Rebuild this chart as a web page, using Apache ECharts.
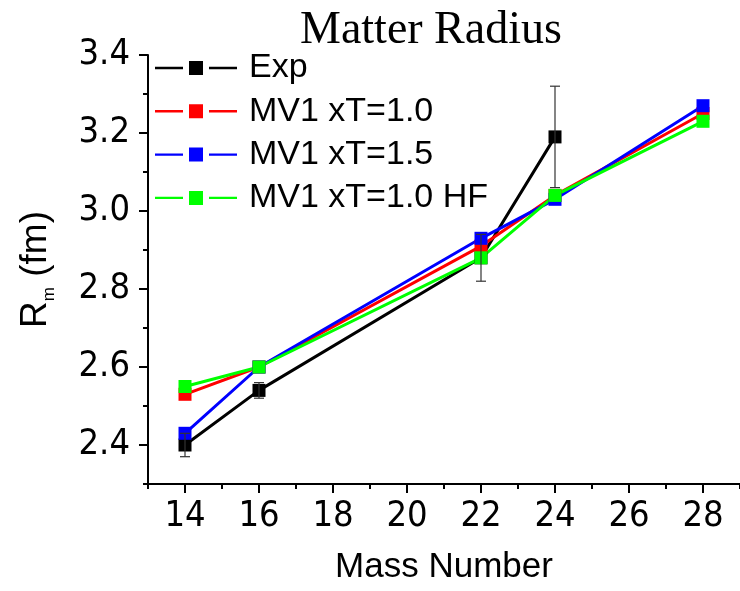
<!DOCTYPE html>
<html>
<head>
<meta charset="utf-8">
<script src="https://cdn.jsdelivr.net/npm/echarts@6/dist/echarts.min.js"></script>
<style>
  html, body { margin: 0; padding: 0; background: #fff; }
  #chart { width: 740px; height: 591px; }
</style>
</head>
<body>
<div id="chart"></div>
<script>
// Matter radius vs. mass number
const massNumbers = [14, 16, 22, 24, 28];
const expRadius = [2.40, 2.54, 2.88, 3.19];
const expError = [0.03, 0.02, 0.06, 0.13];
const mv1xT10 = [2.53, 2.60, 2.91, 3.04, 3.25];
const mv1xT15 = [2.43, 2.60, 2.93, 3.03, 3.27];
const mv1xT10HF = [2.55, 2.60, 2.88, 3.04, 3.23];

const xMajorTicks = [14, 16, 18, 20, 22, 24, 26, 28];
const xMinorTicks = [13, 15, 17, 19, 21, 23, 25, 27, 29];
const yMajorTicks = [2.4, 2.6, 2.8, 3.0, 3.2, 3.4];
const yMinorTicks = [2.3, 2.5, 2.7, 2.9, 3.1, 3.3];

const seriesNames = ['Exp', 'MV1 xT=1.0', 'MV1 xT=1.5', 'MV1 xT=1.0 HF'];
const seriesColors = ['#000000', '#ff0000', '#0000ff', '#00ff00'];

const pairs = (ys) => ys.map((y, i) => [massNumbers[i], y]);

const tickFont = "'Liberation Sans Narrow', 'DejaVu Sans Condensed', 'Liberation Sans', sans-serif";
const sansFont = "'Liberation Sans', Arial, sans-serif";

// legend key: short line, gap, square, gap, short line
const legendIcon = 'path://M0,5.8 h28 v2.4 h-28 Z M34,0 h14 v14 h-14 Z M54,5.8 h28 v2.4 h-28 Z';

function lineSeries(name, values, color) {
  return {
    name: name,
    type: 'line',
    data: pairs(values),
    symbol: 'rect',
    symbolSize: 13,
    itemStyle: { color: color },
    lineStyle: { color: color, width: 3 },
    emphasis: { disabled: true },
    animation: false
  };
}

const errorData = expRadius.map((y, i) => [massNumbers[i], y - expError[i], y + expError[i]]);

const chart = echarts.init(document.getElementById('chart'), null, { renderer: 'canvas' });

chart.setOption({
  backgroundColor: '#ffffff',
  animation: false,
  title: {
    text: 'Matter Radius',
    left: 295,
    top: 3,
    textStyle: {
      fontFamily: "'Liberation Serif', 'Times New Roman', serif",
      fontSize: 46,
      fontWeight: 'normal',
      color: '#000'
    }
  },
  legend: {
    data: seriesNames,
    orient: 'vertical',
    left: 155,
    top: 51,
    padding: 0,
    icon: legendIcon,
    itemWidth: 82,
    itemHeight: 14,
    itemGap: 9.3,
    textStyle: {
      fontFamily: sansFont,
      fontSize: 34,
      lineHeight: 34,
      color: '#000',
      padding: [0, 0, 0, 7]
    }
  },
  grid: { left: 148, top: 55, right: 0, bottom: 107, containLabel: false },
  xAxis: [
    {
      type: 'value',
      min: 13,
      max: 29,
      name: 'Mass Number',
      nameLocation: 'middle',
      nameGap: 66,
      nameTextStyle: {
        fontFamily: sansFont,
        fontSize: 35,
        color: '#000'
      },
      axisLine: { show: true, onZero: false, lineStyle: { color: '#000', width: 2 } },
      axisTick: { show: true, customValues: xMajorTicks, length: 9, lineStyle: { color: '#000', width: 2 } },
      axisLabel: {
        customValues: xMajorTicks,
        margin: 15,
        fontFamily: tickFont,
        fontSize: 36,
        color: '#000'
      },
      splitLine: { show: false }
    },
    {
      type: 'value',
      min: 13,
      max: 29,
      position: 'bottom',
      axisLine: { show: false, onZero: false },
      axisTick: { show: true, customValues: xMinorTicks, length: 5, lineStyle: { color: '#000', width: 2 } },
      axisLabel: { show: false },
      splitLine: { show: false }
    }
  ],
  yAxis: [
    {
      type: 'value',
      min: 2.3,
      max: 3.4,
      name: '{a|R}{b|m}{a| (fm)}',
      nameLocation: 'middle',
      nameRotate: 90,
      nameGap: 90,
      nameTextStyle: {
        color: '#000',
        rich: {
          a: { fontFamily: sansFont, fontSize: 37, lineHeight: 44, color: '#000' },
          b: { fontFamily: sansFont, fontSize: 17, lineHeight: 44, verticalAlign: 'bottom', color: '#000' }
        }
      },
      axisLine: { show: true, onZero: false, lineStyle: { color: '#000', width: 2 } },
      axisTick: { show: true, customValues: yMajorTicks, length: 9, lineStyle: { color: '#000', width: 2 } },
      axisLabel: {
        customValues: yMajorTicks,
        margin: 18,
        fontFamily: tickFont,
        fontSize: 36,
        color: '#000',
        formatter: (v) => v.toFixed(1)
      },
      splitLine: { show: false }
    },
    {
      type: 'value',
      min: 2.3,
      max: 3.4,
      position: 'left',
      axisLine: { show: false, onZero: false },
      axisTick: { show: true, customValues: yMinorTicks, length: 5, lineStyle: { color: '#000', width: 2 } },
      axisLabel: { show: false },
      splitLine: { show: false }
    }
  ],
  series: [
    lineSeries(seriesNames[0], expRadius, seriesColors[0]),
    lineSeries(seriesNames[1], mv1xT10, seriesColors[1]),
    lineSeries(seriesNames[2], mv1xT15, seriesColors[2]),
    lineSeries(seriesNames[3], mv1xT10HF, seriesColors[3]),
    {
      name: 'Exp error',
      type: 'custom',
      data: errorData,
      z: 10,
      silent: true,
      renderItem: function (params, api) {
        const x = api.value(0);
        const lo = api.coord([x, api.value(1)]);
        const hi = api.coord([x, api.value(2)]);
        const half = 5;
        const style = { stroke: '#333', lineWidth: 1.2 };
        return {
          type: 'group',
          children: [
            { type: 'line', shape: { x1: lo[0], y1: lo[1], x2: hi[0], y2: hi[1] }, style: style },
            { type: 'line', shape: { x1: lo[0] - half, y1: lo[1], x2: lo[0] + half, y2: lo[1] }, style: style },
            { type: 'line', shape: { x1: hi[0] - half, y1: hi[1], x2: hi[0] + half, y2: hi[1] }, style: style }
          ]
        };
      }
    }
  ]
});
</script>
</body>
</html>
